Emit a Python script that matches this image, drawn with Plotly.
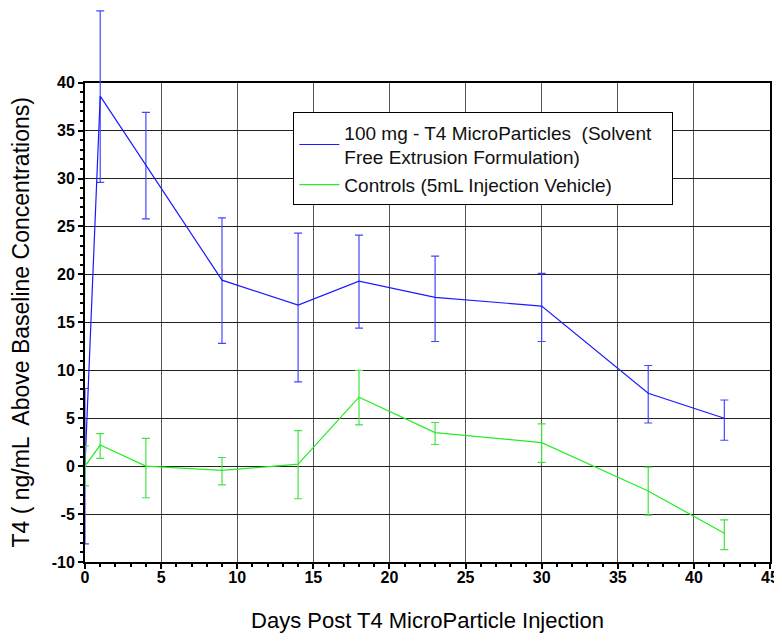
import plotly.graph_objects as go

days = [0, 1, 4, 9, 14, 18, 23, 30, 37, 42]

t4_mean = [0, 38.6, 31.4, 19.4, 16.8, 19.3, 17.6, 16.7, 7.6, 5.0]
t4_upper = [8.1, 47.5, 36.9, 25.9, 24.3, 24.1, 21.9, 20.1, 10.5, 6.9]
t4_lower = [-8.1, 29.6, 25.8, 12.8, 8.8, 14.4, 13.0, 13.0, 4.5, 2.7]

ctl_mean = [0, 2.2, 0, -0.45, 0.2, 7.2, 3.5, 2.45, -2.6, -7.0]
ctl_upper = [2.1, 3.4, 2.9, 0.9, 3.7, 10.0, 4.55, 4.4, -0.1, -5.6]
ctl_lower = [-2.05, 0.8, -3.3, -1.95, -3.4, 4.3, 2.26, 0.4, -5.1, -8.7]

name_t4 = "100 mg - T4 MicroParticles  (Solvent&nbsp;&nbsp;&nbsp;<br>Free Extrusion Formulation)"
name_ctl = "Controls (5mL Injection Vehicle)"

x_ticks = [0, 5, 10, 15, 20, 25, 30, 35, 40, 45]
y_ticks = [-10, -5, 0, 5, 10, 15, 20, 25, 30, 35, 40]
x_range = [0, 45]
y_range = [-10, 40]

# layout geometry (the page adds an 8px body margin around the figure)
OFF = 8
W, H = 782 - OFF, 641 - 2 * OFF
M_L, M_R, M_T = 84.5 - OFF, 12, 0
plot_bottom = 562 - OFF                # figure row of the x axis
M_B = H - plot_bottom
plot_w = W - M_L - M_R
plot_h = H - M_T - M_B
main_top_px = 82.7 - OFF               # figure row of the top of the main plot
main_frac = (plot_bottom - main_top_px) / plot_h
# second axis with identical scale, extended upward so tall error bars aren't clipped
y2_top = y_range[0] + (y_range[1] - y_range[0]) / main_frac


def err(mean, up, lo):
    return dict(
        type="data", symmetric=False,
        array=[u - m for u, m in zip(up, mean)],
        arrayminus=[m - l for m, l in zip(mean, lo)],
        thickness=1.2, width=4,
    )


fig = go.Figure()
# invisible trace so the main (grid/axes) subplot is drawn
fig.add_trace(go.Scatter(
    x=days, y=t4_mean, mode="none", showlegend=False, hoverinfo="skip",
    xaxis="x", yaxis="y",
))
fig.add_trace(go.Scatter(
    x=days, y=t4_mean, mode="lines", name=name_t4,
    line=dict(color="#1a1aff", width=1.2),
    error_y=dict(err(t4_mean, t4_upper, t4_lower), color="#4646ff"),
    xaxis="x2", yaxis="y2",
))
fig.add_trace(go.Scatter(
    x=days, y=ctl_mean, mode="lines", name=name_ctl,
    line=dict(color="#22ee22", width=1.2),
    error_y=dict(err(ctl_mean, ctl_upper, ctl_lower), color="#44e444"),
    xaxis="x2", yaxis="y2",
))

FAM = "Liberation Sans, Arial, Helvetica, sans-serif"
tickfont = dict(family=FAM, size=16, color="black", weight="bold")

fig.update_layout(
    width=W, height=H,
    margin=dict(l=M_L, r=M_R, t=M_T, b=M_B, autoexpand=False),
    paper_bgcolor="white", plot_bgcolor="rgba(0,0,0,0)",
    font=dict(family=FAM, color="black"),
    showlegend=True,
    legend=dict(
        x=(293 - OFF - M_L) / plot_w, y=(plot_bottom - (112.3 - OFF)) / plot_h,
        xanchor="left", yanchor="top",
        bgcolor="white", bordercolor="black", borderwidth=1,
        font=dict(size=19, family=FAM, color="#111"),
        itemwidth=40,
    ),
    xaxis=dict(
        range=x_range, tickvals=x_ticks, ticktext=[str(v) for v in x_ticks],
        showgrid=True, gridcolor="#555", gridwidth=1.3,
        showline=True, linecolor="black", linewidth=2, mirror=True,
        ticks="outside", ticklen=5, tickwidth=1.5, tickcolor="black",
        minor=dict(dtick=1, ticks="outside", ticklen=3, tickcolor="black", showgrid=False),
        tickfont=tickfont, zeroline=False, automargin=False, ticklabelstandoff=-5,
        anchor="y",
        title=dict(text="Days Post T4 MicroParticle Injection",
                   font=dict(size=22, family=FAM), standoff=34),
    ),
    yaxis=dict(
        range=y_range, tickvals=y_ticks, ticktext=[str(v) for v in y_ticks],
        domain=[0, main_frac],
        showgrid=True, gridcolor="#222", gridwidth=1.3,
        showline=True, linecolor="black", linewidth=2, mirror=True,
        ticks="outside", ticklen=5, tickwidth=1.5, tickcolor="black",
        minor=dict(dtick=1, ticks="outside", ticklen=3, tickcolor="black", showgrid=False),
        tickfont=tickfont, zeroline=False, automargin=False,
        anchor="x",
        title=dict(text="T4 ( ng/mL  Above Baseline Concentrations)",
                   font=dict(size=23, family=FAM), standoff=40),
    ),
    xaxis2=dict(range=x_range, visible=False, anchor="y2", showgrid=False, zeroline=False),
    yaxis2=dict(range=[y_range[0], y2_top], domain=[0, 1], visible=False, anchor="x2",
                showgrid=False, zeroline=False),
)

fig.write_html("out.html")
